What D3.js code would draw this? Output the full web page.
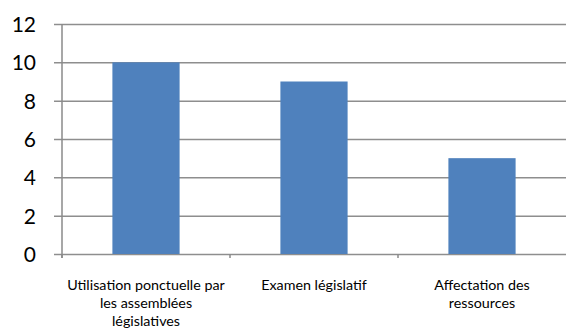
<!DOCTYPE html>
<html>
<head>
<meta charset="utf-8">
<script src="https://cdn.jsdelivr.net/npm/d3@7"></script>
<style>
  html, body { margin: 0; padding: 0; background: #fff; }
  svg { display: block; }
</style>
</head>
<body>
<svg id="chart" width="566" height="329"></svg>
<script>
// Chart data
const categories = [
  "Utilisation ponctuelle par\nles assemblées\nlégislatives",
  "Examen législatif",
  "Affectation des\nressources"
];
const values = [10, 9, 5];
const yTicks = [0, 2, 4, 6, 8, 10, 12];

const svg = d3.select("#chart");
const margin = { left: 62, right: 0, top: 24, bottom: 75 };
const W = 566, H = 329;

const x = d3.scaleBand()
  .domain(categories)
  .range([margin.left, W - margin.right])
  .paddingInner(0.6)
  .paddingOuter(0.3);

const y = d3.scaleLinear()
  .domain([0, 12])
  .range([H - margin.bottom, margin.top]);

const gridColor = "#8e8e8e";
const axisColor = "#8a8a8a";

// Horizontal gridlines with small ticks left of the axis
const yAxis = d3.axisLeft(y)
  .tickValues(yTicks)
  .tickSize(-(W - margin.left) - 8)
  .tickFormat(d => d);
const gy = svg.append("g")
  .attr("transform", `translate(${margin.left - 8},0)`)
  .call(yAxis);
gy.select(".domain").remove();
gy.selectAll(".tick line")
  .attr("x1", 0)
  .attr("x2", W - margin.left + 8)
  .attr("stroke", gridColor)
  .attr("stroke-width", 1.5);
gy.selectAll(".tick text")
  .attr("x", 36 - (margin.left - 8))
  .attr("dy", "0.36em")
  .attr("text-anchor", "end")
  .attr("fill", "#000")
  .style("font-family", "Lato, 'Open Sans', sans-serif")
  .style("font-size", "21px");

// Bars
svg.append("g")
  .selectAll("rect")
  .data(values)
  .join("rect")
  .attr("x", (d, i) => x(categories[i]))
  .attr("y", d => y(d))
  .attr("width", x.bandwidth())
  .attr("height", d => y(0) - y(d))
  .attr("fill", "#4f81bd");

// Vertical axis line
svg.append("line")
  .attr("x1", margin.left).attr("x2", margin.left)
  .attr("y1", y(12)).attr("y2", y(0) + 4)
  .attr("stroke", axisColor).attr("stroke-width", 1.5);

// Category boundary ticks on the baseline
const step = x.step();
const bounds = d3.range(categories.length).map(i => margin.left + i * step);
svg.append("g")
  .selectAll("line")
  .data(bounds)
  .join("line")
  .attr("x1", d => d).attr("x2", d => d)
  .attr("y1", y(0)).attr("y2", y(0) + 4)
  .attr("stroke", axisColor).attr("stroke-width", 1.5);

// Category labels, centred under each bar
const labels = svg.append("g")
  .style("font-family", "Lato, 'Open Sans', sans-serif")
  .style("font-size", "14.3px")
  .attr("fill", "#000");
categories.forEach(c => {
  const cx = x(c) + x.bandwidth() / 2;
  const t = labels.append("text")
    .attr("text-anchor", "middle")
    .attr("x", cx)
    .attr("y", 290);
  c.split("\n").forEach((line, j) => {
    t.append("tspan")
      .attr("x", cx)
      .attr("dy", j === 0 ? 0 : 18)
      .text(line);
  });
});
</script>
</body>
</html>
